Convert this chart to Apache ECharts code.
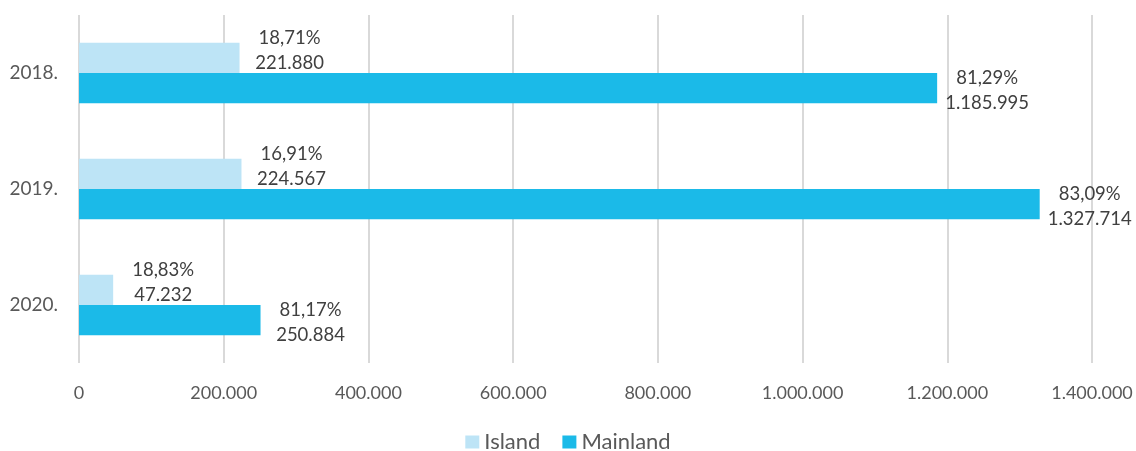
<!DOCTYPE html>
<html><head><meta charset="utf-8">
<script src="https://cdn.jsdelivr.net/npm/echarts@6/dist/echarts.min.js"></script>
<style>html,body{margin:0;padding:0;background:#fff}#c{width:1136px;height:451px}</style>
</head><body><div id="c"></div>
<script>
const categories = ['2018.', '2019.', '2020.'];
const islandValues = [221880, 224567, 47232];
const mainlandValues = [1185995, 1327714, 250884];
const islandPct = ['18,71%', '16,91%', '18,83%'];
const mainlandPct = ['81,29%', '83,09%', '81,17%'];
const xTicks = [0, 200000, 400000, 600000, 800000, 1000000, 1200000, 1400000];

const FONT = 'Lato, "Open Sans", sans-serif';
function fmt(v){ return String(v).replace(/\B(?=(\d{3})+(?!\d))/g, '.'); }
function lbl(pcts, dy){
  return {
    show: true, position: 'right', distance: 0, offset: [0, dy],
    formatter: p => '{a|' + pcts[p.dataIndex] + '}\n{a|' + fmt(p.value) + '}',
    rich: { a: { width: 100, align: 'center', fontSize: 18.5, lineHeight: 25, color: '#404040', fontFamily: FONT } }
  };
}
const chart = echarts.init(document.getElementById('c'));
chart.setOption({
  animation: false,
  textStyle: { fontFamily: FONT },
  grid: { left: 79, right: 44, top: 15, bottom: 88, containLabel: false },
  legend: {
    left: 'center', top: 429, padding: 0, icon: 'rect', itemWidth: 14, itemHeight: 13, itemGap: 22,
    textStyle: { fontSize: 22, lineHeight: 26, color: '#595959', fontFamily: FONT },
    data: ['Island', 'Mainland']
  },
  xAxis: {
    type: 'value', min: 0, max: 1400000, interval: 200000,
    axisLine: { show: false }, axisTick: { show: false },
    axisLabel: { margin: 21, fontSize: 18, color: '#595959', fontFamily: FONT,
      formatter: v => fmt(xTicks[xTicks.indexOf(v)] ?? v) },
    splitLine: { lineStyle: { color: '#d9d9d9', width: 2 } }
  },
  yAxis: {
    type: 'category', data: categories, inverse: true,
    axisLine: { show: false }, axisTick: { show: false },
    axisLabel: { margin: 21, fontSize: 19, color: '#595959', fontFamily: FONT },
    splitLine: { show: false }
  },
  series: [
    { name: 'Island', type: 'bar', data: islandValues, barGap: '0%', barCategoryGap: '48%',
      itemStyle: { color: '#BDE4F6' }, label: lbl(islandPct, -7) },
    { name: 'Mainland', type: 'bar', data: mainlandValues, barGap: '0%', barCategoryGap: '48%',
      itemStyle: { color: '#1BBAE8' }, label: lbl(mainlandPct, 2) }
  ]
});
</script></body></html>
